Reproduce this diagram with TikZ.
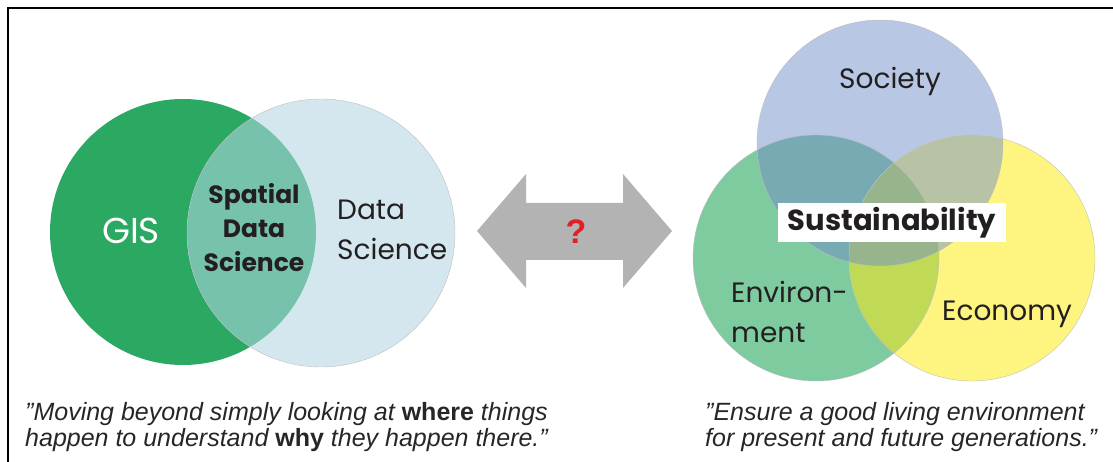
\documentclass[tikz,border=0pt]{standalone}
\usepackage{fontspec}
\setmainfont{Liberation Sans}
\newfontfamily\vennfont{Poppins}
\usetikzlibrary{positioning}

\definecolor{gisgreen}{HTML}{2BA862}
\definecolor{dsblue}{HTML}{D4E7EE}
\definecolor{sdsgreen}{HTML}{76C2AC}
\definecolor{socblue}{HTML}{B8C7E3}
\definecolor{envgreen}{HTML}{7ECBA0}
\definecolor{ecoyellow}{HTML}{FEF480}
\definecolor{socenv}{HTML}{78AAB4}
\definecolor{soceco}{HTML}{B8C3A6}
\definecolor{enveco}{HTML}{C0DA56}
\definecolor{allthree}{HTML}{98B48D}
\definecolor{arrowgrey}{HTML}{B3B3B3}
\definecolor{qred}{HTML}{E31E24}
\definecolor{darktext}{HTML}{231F20}

\begin{document}
\begin{tikzpicture}[x=1pt, y=-1pt,
        venntext/.style={font=\vennfont\fontsize{28}{40}\selectfont, text=darktext, inner sep=0pt},
        venntextbold/.style={font=\vennfont\bfseries\fontsize{25}{34}\selectfont, text=darktext,
                             inner sep=0pt, align=center},
        quotetext/.style={font=\itshape\fontsize{25}{26}\selectfont, text=black!85,
                          inner sep=0pt, align=left},
        rim/.style={draw=black!25, line width=0.4pt}
    ]

    \useasboundingbox (0,0) rectangle (1113,462);

    % Marco
    \draw[line width=2pt] (8,462) -- (8,8) -- (1113,8);

    % Centros de los circulos
    \coordinate (gis) at (183,232);
    \coordinate (ds) at (321,233);
    \coordinate (soc) at (880,143);
    \coordinate (env) at (816,258);
    \coordinate (eco) at (972,258);

    % Diagrama izquierdo
    \fill[gisgreen] (gis) circle (133pt);
    \fill[dsblue] (ds) circle (134pt);
    \begin{scope}
        \clip (gis) circle (133pt);
        \fill[sdsgreen] (ds) circle (134pt);
    \end{scope}
    \draw[rim] (ds) circle (134pt);

    \node[venntext, text=white, font=\vennfont\fontsize{36}{40}\selectfont] (gislabel) at (131,231) {GIS};
    \node[venntextbold] (sdslabel) at (254,228) {Spatial\\Data\\Science};
    \node[venntext, anchor=west, align=left] (dslabel) at (337,230) {Data\\Science};

    % Flecha doble
    \fill[arrowgrey] (477,231) -- (526,174) -- (526,203) -- (623,203) -- (623,174) -- (672,231)
        -- (623,288) -- (623,260) -- (526,260) -- (526,288) -- cycle;
    \node[font=\bfseries\fontsize{34}{40}\selectfont, text=qred, inner sep=0pt] (question) at (576,232) {?};

    % Diagrama derecho
    \fill[socblue] (soc) circle (123pt);
    \fill[envgreen] (env) circle (123pt);
    \fill[ecoyellow] (eco) circle (123pt);
    \begin{scope}
        \clip (soc) circle (123pt);
        \fill[socenv] (env) circle (123pt);
        \fill[soceco] (eco) circle (123pt);
    \end{scope}
    \begin{scope}
        \clip (env) circle (123pt);
        \fill[enveco] (eco) circle (123pt);
        \clip (soc) circle (123pt);
        \fill[allthree] (eco) circle (123pt);
    \end{scope}
    \draw[rim] (soc) circle (123pt) (env) circle (123pt) (eco) circle (123pt);

    \node[venntext, anchor=base] (soclabel) at (890,89) {Society};
    \node[venntext, anchor=west, align=left] (envlabel) at (731,312) {Environ-\\ment};
    \node[venntext, anchor=base] (ecolabel) at (1007,320) {Economy};
    \node[venntextbold, fill=white, minimum width=228pt, minimum height=39pt,
          font=\vennfont\bfseries\fontsize{29}{30}\selectfont] (sust) at (892,222.5) {Sustainability};

    % Citas
    \node[quotetext, anchor=west] (gisquote) at (25,427)
        {”Moving beyond simply looking at \textbf{\upshape where} things\\happen to understand \textbf{\upshape why} they happen there.”};
    \node[quotetext, anchor=west] (susquote) at (705,427)
        {”Ensure a good living environment\\for present and future generations.”};

\end{tikzpicture}
\end{document}
